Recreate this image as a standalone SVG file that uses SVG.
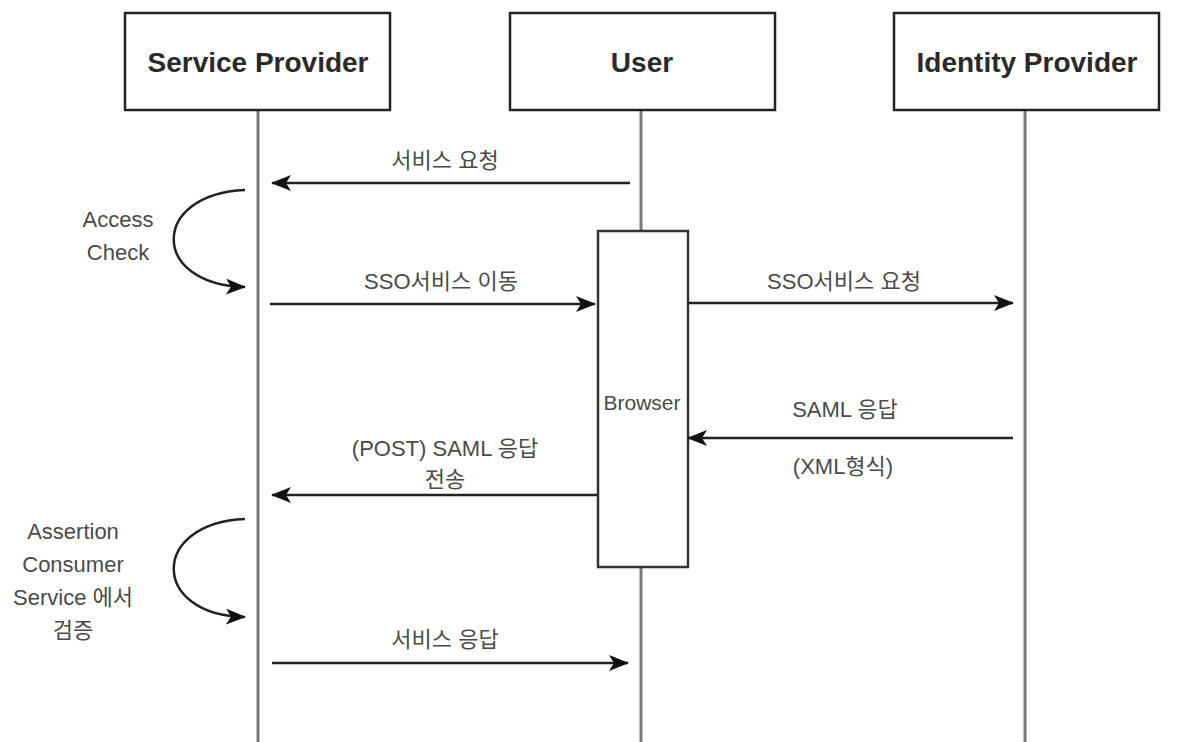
<svg xmlns="http://www.w3.org/2000/svg" width="1180" height="742" viewBox="0 0 1180 742">
<style>
.hdr{fill:#fff;stroke:#222;stroke-width:2.5}
.htx{font-family:"Liberation Sans",Arial,sans-serif;font-size:28px;font-weight:bold;fill:#2a2a2a;text-anchor:middle}
.life{stroke:#7a7a7a;stroke-width:3;fill:none}
.msg{stroke:#222;stroke-width:2.5;fill:none}
.lbl{font-family:"Liberation Sans","Noto Sans CJK KR",sans-serif;font-size:22px;fill:#4a4a4a;text-anchor:middle}
</style>
<defs>
<marker id="ah" viewBox="0 0 20 16" refX="19" refY="8" markerWidth="20" markerHeight="16" markerUnits="userSpaceOnUse" orient="auto">
<path d="M0,0 L20,8 L0,16 L5,8 Z" fill="#111"/>
</marker>
</defs>
<rect width="1180" height="742" fill="#fff"/>
<g id="lifelines">
<line class="life" x1="258" y1="110" x2="258" y2="742"/>
<line class="life" x1="641" y1="110" x2="641" y2="231"/>
<line class="life" x1="641" y1="567" x2="641" y2="742"/>
<line class="life" x1="1025" y1="110" x2="1025" y2="742"/>
</g>
<g id="sp">
<rect class="hdr" x="125" y="13" width="265" height="97"/>
<text class="htx" x="258" y="72">Service Provider</text>
</g>
<g id="user">
<rect class="hdr" x="510" y="13" width="265" height="97"/>
<text class="htx" x="642" y="72">User</text>
</g>
<g id="idp">
<rect class="hdr" x="894" y="13" width="265" height="97"/>
<text class="htx" x="1027" y="72">Identity Provider</text>
</g>
<g id="browser">
<rect x="598" y="231" width="90" height="336" fill="#fff" stroke="#333" stroke-width="2.5"/>
<text x="642" y="410" font-family="Liberation Sans,sans-serif" font-size="21" fill="#4a4a4a" text-anchor="middle">Browser</text>
</g>
<g id="connectors">
<line class="msg" x1="630" y1="183" x2="272" y2="183" marker-end="url(#ah)"/>
<path class="msg" d="M245,190 C150,194 150,285 245,287" marker-end="url(#ah)"/>
<line class="msg" x1="270" y1="304" x2="595" y2="304" marker-end="url(#ah)"/>
<line class="msg" x1="688" y1="303" x2="1013" y2="303" marker-end="url(#ah)"/>
<line class="msg" x1="1013" y1="438" x2="688" y2="438" marker-end="url(#ah)"/>
<line class="msg" x1="597" y1="495" x2="272" y2="495" marker-end="url(#ah)"/>
<path class="msg" d="M245,519 C150,523 150,615 245,617" marker-end="url(#ah)"/>
<line class="msg" x1="272" y1="663" x2="628" y2="663" marker-end="url(#ah)"/>
</g>
<g id="labels">
<text class="lbl" x="445" y="168">서비스 요청</text>
<text class="lbl" x="118" y="227">Access</text>
<text class="lbl" x="118" y="260">Check</text>
<text class="lbl" x="441" y="289">SSO서비스 이동</text>
<text class="lbl" x="844" y="289">SSO서비스 요청</text>
<text class="lbl" x="845" y="417">SAML 응답</text>
<text class="lbl" x="843" y="474">(XML형식)</text>
<text class="lbl" x="445" y="456">(POST) SAML 응답</text>
<text class="lbl" x="445" y="487">전송</text>
<text class="lbl" x="73" y="539">Assertion</text>
<text class="lbl" x="73" y="572">Consumer</text>
<text class="lbl" x="73" y="605">Service 에서</text>
<text class="lbl" x="73" y="638">검증</text>
<text class="lbl" x="445" y="647">서비스 응답</text>
</g>
</svg>
